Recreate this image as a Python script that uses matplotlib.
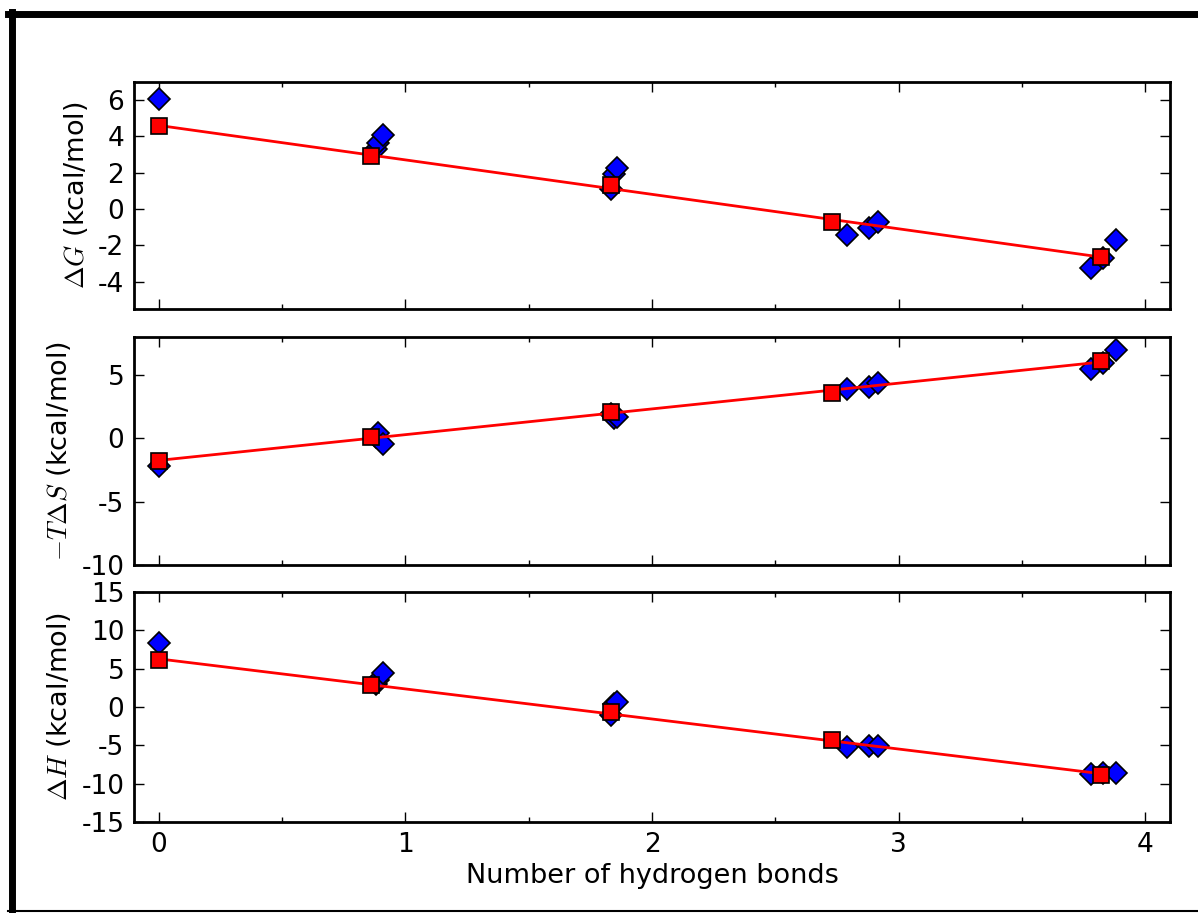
import matplotlib
matplotlib.use("Agg")
import matplotlib.pyplot as plt
from matplotlib.lines import Line2D
from matplotlib.ticker import MultipleLocator
import numpy as np

plt.rcParams["font.family"] = "DejaVu Sans"
plt.rcParams["mathtext.fontset"] = "cm"
plt.rcParams["axes.unicode_minus"] = False

# individual systems (blue diamonds)
nhb = [0.0, 0.88, 0.89, 0.91, 1.835, 1.845, 1.86, 2.79, 2.88, 2.915, 3.78, 3.83, 3.88]
dG = [6.07, 3.3, 3.65, 4.1, 1.1, 1.95, 2.25, -1.42, -1.02, -0.69, -3.24, -2.69, -1.69]
mTdS = [-2.16, 0.1, 0.4, -0.45, 1.9, 1.6, 1.7, 3.88, 4.04, 4.35, 5.47, 5.96, 7.0]
dH = [8.34, 3.0, 3.5, 4.43, -1.0, 0.35, 0.6, -5.2, -5.13, -5.04, -8.72, -8.6, -8.55]

# group averages (red squares)
nhb_avg = [0.0, 0.86, 1.835, 2.73, 3.82]
dG_avg = [4.55, 2.95, 1.35, -0.7, -2.65]
mTdS_avg = [-1.8, 0.08, 2.1, 3.6, 6.1]
dH_avg = [6.15, 2.9, -0.7, -4.34, -8.86]

ylabels = [r"$\Delta G$ (kcal/mol)", r"$-T\Delta S$ (kcal/mol)", r"$\Delta H$ (kcal/mol)"]
ylims = [(-5.5, 7), (-10, 8), (-15, 15)]
yticks = [[-4, -2, 0, 2, 4, 6], [-10, -5, 0, 5], [-15, -10, -5, 0, 5, 10, 15]]

fig = plt.figure(figsize=(11.98, 9.13), dpi=100)
W, H = 1198.0, 913.0
boxes = [(82, 309), (337, 565), (592, 822)]
left, right = 134, 1170

panels = [(dG, dG_avg), (mTdS, mTdS_avg), (dH, dH_avg)]
axes = []
for i, ((top, bot), (ys, yavg)) in enumerate(zip(boxes, panels)):
    ax = fig.add_axes([left / W, 1 - bot / H, (right - left) / W, (bot - top) / H])
    axes.append(ax)
    ax.plot(nhb, ys, "D", color="blue", ms=11.5, mec="black", mew=1.2, zorder=2)
    coef = np.polyfit(nhb_avg, yavg, 1)
    xl = np.array([nhb_avg[0], nhb_avg[-1]])
    ax.plot(xl, np.polyval(coef, xl), "-", color="red", lw=2, zorder=3)
    ax.plot(nhb_avg, yavg, "s", color="red", ms=12, mec="black", mew=1.2, zorder=4)
    ax.set_xlim(-0.1, 4.1)
    ax.set_ylim(*ylims[i])
    ax.set_yticks(yticks[i])
    ax.xaxis.set_major_locator(MultipleLocator(1))
    ax.xaxis.set_minor_locator(MultipleLocator(0.5))
    ax.tick_params(which="both", direction="in", top=True, right=True, labelsize=19, pad=7)
    ax.tick_params(which="major", length=7, width=1)
    ax.tick_params(which="minor", length=3.5, width=1)
    for s in ax.spines.values():
        s.set_linewidth(2)
    ax.set_ylabel(ylabels[i], fontsize=19.5, labelpad=6)
    if i < 2:
        ax.tick_params(labelbottom=False)

axes[-1].set_xlabel("Number of hydrogen bonds", fontsize=19.5, labelpad=4)
fig.align_ylabels(axes)

# outer frame
fig.add_artist(Line2D([8 / W, 1], [1 - 14.5 / H, 1 - 14.5 / H], transform=fig.transFigure, color="black", lw=5))
fig.add_artist(Line2D([11.5 / W, 11.5 / W], [0, 1 - 12 / H], transform=fig.transFigure, color="black", lw=5))
fig.add_artist(Line2D([8 / W, 1], [1 - 911 / H, 1 - 911 / H], transform=fig.transFigure, color="black", lw=1.5))

fig.savefig("out.png", dpi=100)
